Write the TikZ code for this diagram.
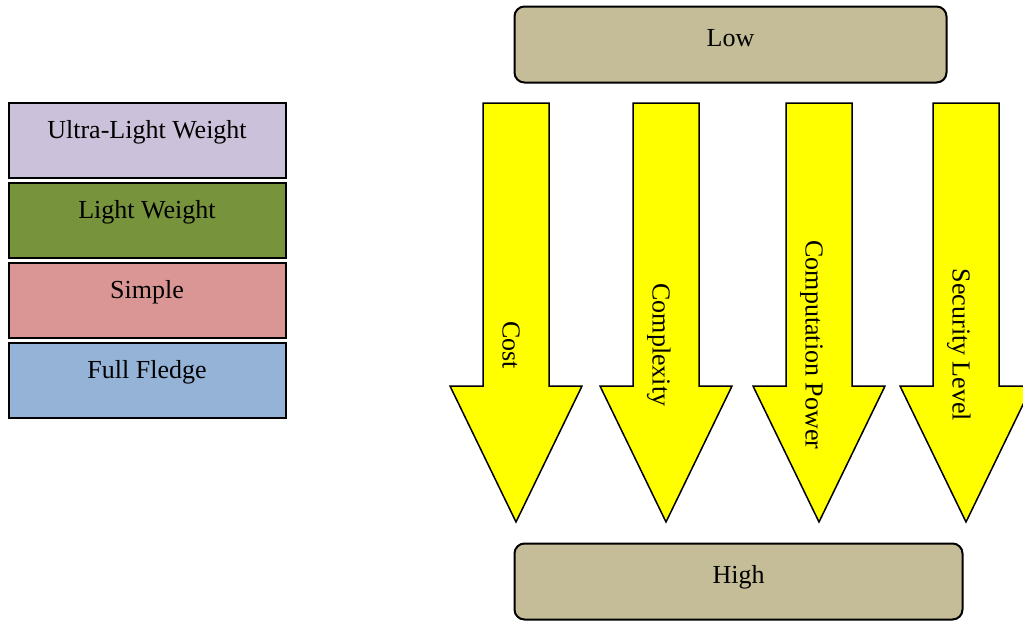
\documentclass[tikz,border=0pt]{standalone}
\usepackage{fontspec}
\setmainfont{Liberation Serif}
\usetikzlibrary{positioning}

\definecolor{ultracol}{HTML}{CCC1DA}
\definecolor{lightcol}{HTML}{77933C}
\definecolor{simplecol}{HTML}{D99694}
\definecolor{fullcol}{HTML}{95B3D7}
\definecolor{boundcol}{HTML}{C4BD97}
\definecolor{flowcol}{RGB}{255,255,0}

\begin{document}
\begin{tikzpicture}[x=1pt, y=-1pt]
	\tikzset {font=\fontsize{26}{30}\selectfont, node distance=3pt,
		level/.style={draw, line width=2pt, minimum width=277pt, minimum height=75pt, inner sep=0pt, text height=18pt, text depth=22pt},
		bound/.style={draw, line width=2pt, rounded corners=10pt, fill=boundcol, minimum height=76pt, inner sep=0pt, text height=18pt, text depth=15pt},
		flow/.style={draw, line width=1.5pt, fill=flowcol},
		flowtext/.style={rotate=-90, inner sep=0pt, text height=17pt, text depth=5pt} }

	\useasboundingbox (0,0) rectangle (1023,622);

	% device classes
	\node[level, fill=ultracol] (ultra) at (147,140) {Ultra-Light Weight};
	\node[level, fill=lightcol, below=of ultra] (light) {Light Weight};
	\node[level, fill=simplecol, below=of light] (simple) {Simple};
	\node[level, fill=fullcol, below=of simple] (full) {Full Fledge};

	% low to high
	\node[bound, minimum width=432pt] (low) at (730.5,44.5) {Low};
	\node[bound, minimum width=448pt] (high) at (738.5,581.5) {High};

	\foreach \cx/\nm/\txt in {516/cost/Cost, 666/cplx/Complexity, 819/comp/Computation Power, 966/sec/Security Level} {
		\draw[flow] (\cx-33,103) -- (\cx+33,103) -- (\cx+33,386) -- (\cx+66,386) -- (\cx,522) -- (\cx-66,386) -- (\cx-33,386) -- cycle;
		\node[flowtext] (\nm) at (\cx-7.5,345) {\txt};
	}
\end{tikzpicture}
\end{document}
